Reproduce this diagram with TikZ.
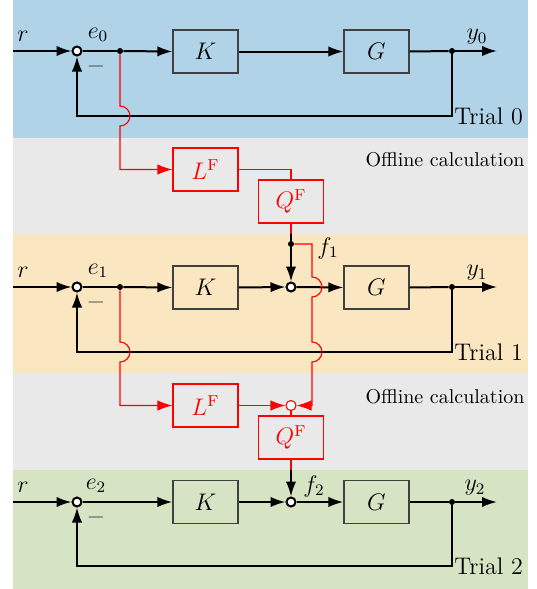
\documentclass[tikz,border=0pt]{standalone}
\usetikzlibrary{arrows.meta,calc}
\definecolor{bandblue}{RGB}{176,211,232}
\definecolor{bandgray}{RGB}{233,233,233}
\definecolor{bandorange}{RGB}{250,230,192}
\definecolor{bandgreen}{RGB}{215,228,196}
\begin{document}
\begin{tikzpicture}[x=0.5pt,y=-0.5pt,
 sig/.style={line width=1pt,draw=black},
 rsig/.style={line width=0.55pt,draw=red},
 arr/.style={-{Latex[length=7.5pt,width=5.2pt]}},
 blk/.style={draw=black!75,line width=0.65pt,minimum width=32.5pt,minimum height=21.5pt,inner sep=0pt,font=\large},
 rblk/.style={blk,draw=red,text=red},
 sumc/.style={circle,draw,line width=1pt,fill=white,minimum size=4.5pt,inner sep=0pt},
 rsumc/.style={circle,draw=red,line width=0.55pt,fill=white,minimum size=5pt,inner sep=0pt},
 dotc/.style={circle,fill,minimum size=3pt,inner sep=0pt},
 lbl/.style={font=\large,inner sep=0pt},
 trial/.style={font=\large,anchor=west,inner sep=1pt},
 offl/.style={inner sep=0pt}]
\useasboundingbox (0,0) rectangle (536,589);
% bands
\fill[bandblue] (13,0) rectangle (528,138);
\fill[bandgray] (13,138) rectangle (528,234);
\fill[bandorange] (13,234) rectangle (528,373);
\fill[bandgray] (13,373) rectangle (528,470);
\fill[bandgreen] (13,470) rectangle (528,589);

% ---------- Trial 0 ----------
\coordinate (in0) at (13,51);
\node[sumc] (s0) at (77,51) {};
\node[dotc] (br0) at (120,51) {};
\node[blk] (K0) at (205.5,51.5) {$K$};
\node[blk] (G0) at (376.5,51.5) {$G$};
\node[dotc] (d0) at (452,51) {};
\coordinate (out0) at (497,51);
\coordinate (c0) at (452,116);
\node[lbl] (r0) at (23,36) {$r$};
\node[lbl] (e0) at (98,35) {$e_0$};
\node[lbl] (y0) at (477,37) {$y_0$};
\node[lbl,text=black!70] (m0) at (96,66) {$-$};
\node[trial] (t0) at (c0) {Trial 0};
\draw[sig,arr] (in0) -- (s0.west);
\draw[sig] (s0.east) -- (br0);
\draw[sig,arr] (br0) -- (K0.west);
\draw[sig,arr] (K0.east) -- (G0.west);
\draw[sig] (G0.east) -- (d0);
\draw[sig,arr] (d0) -- (out0);
\draw[sig,arr] (d0) -- (c0) -| (s0.south);

% ---------- Offline 1 ----------
\node[offl] (off1) at (445,160) {Offline calculation};
\node[rblk] (L0) at (205.5,169.5) {$L^{\mathrm{F}}$};
\node[rblk] (Q0) at (291,201.5) {$Q^{\mathrm{F}}$};
\coordinate (h0) at (120,106);
\draw[rsig,arr] (br0) -- (h0) arc[start angle=90,end angle=-90,radius=5pt] |- (L0.west);
\draw[rsig] (L0.east) -| (Q0.north);

% ---------- Trial 1 ----------
\coordinate (in1) at (13,287);
\node[sumc] (s1) at (77,287) {};
\node[dotc] (br1) at (120,287) {};
\node[blk] (K1) at (205.5,287.5) {$K$};
\node[sumc] (f1s) at (291,287) {};
\node[blk] (G1) at (376.5,287.5) {$G$};
\node[dotc] (d1) at (452,287) {};
\coordinate (out1) at (497,287);
\coordinate (c1) at (452,352);
\coordinate (b1) at (291,234);
\node[dotc] (f1d) at (291,244) {};
\node[lbl] (r1) at (23,272) {$r$};
\node[lbl] (e1) at (98,271) {$e_1$};
\node[lbl] (y1) at (477,273) {$y_1$};
\node[lbl] (f1) at (328,248) {$f_1$};
\node[lbl,text=black!70] (m1) at (96,302) {$-$};
\node[trial] (t1) at (c1) {Trial 1};
\draw[sig,arr] (in1) -- (s1.west);
\draw[sig] (s1.east) -- (br1);
\draw[sig,arr] (br1) -- (K1.west);
\draw[sig,arr] (K1.east) -- (f1s.west);
\draw[sig,arr] (f1s.east) -- (G1.west);
\draw[sig] (G1.east) -- (d1);
\draw[sig,arr] (d1) -- (out1);
\draw[sig,arr] (d1) -- (c1) -| (s1.south);
\draw[rsig] (Q0.south) -- (b1);
\draw[sig] (b1) -- (f1d);
\draw[sig,arr] (f1d) -- (f1s.north);

% ---------- Offline 2 ----------
\node[offl] (off2) at (445,397) {Offline calculation};
\node[rblk] (L1) at (205.5,405.5) {$L^{\mathrm{F}}$};
\node[rsumc] (rc) at (291,405.5) {};
\node[rblk] (Q1) at (291,437.5) {$Q^{\mathrm{F}}$};
\coordinate (h1) at (120,342);
\coordinate (h2) at (312,277);
\coordinate (h3) at (312,342);
\draw[rsig,arr] (br1) -- (h1) arc[start angle=90,end angle=-90,radius=5pt] |- (L1.west);
\draw[rsig,arr] (L1.east) -- (rc.west);
\draw[rsig,arr] (f1d) -| (h2) arc[start angle=90,end angle=-90,radius=5pt] -- (h3) arc[start angle=90,end angle=-90,radius=5pt] |- (rc.east);
\draw[rsig] (rc.south) -- (Q1.north);

% ---------- Trial 2 ----------
\coordinate (in2) at (13,502);
\node[sumc] (s2) at (77,502) {};
\node[blk] (K2) at (205.5,502) {$K$};
\node[sumc] (f2s) at (291,502) {};
\node[blk] (G2) at (376.5,502) {$G$};
\node[dotc] (d2) at (452,502) {};
\coordinate (out2) at (497,502);
\coordinate (c2) at (452,566);
\coordinate (b2) at (291,470);
\node[lbl] (r2) at (23,487) {$r$};
\node[lbl] (e2) at (96,486) {$e_2$};
\node[lbl] (y2) at (475,488) {$y_2$};
\node[lbl] (f2) at (314,486) {$f_2$};
\node[lbl,text=black!70] (m2) at (96,517) {$-$};
\node[trial] (t2) at (c2) {Trial 2};
\draw[sig,arr] (in2) -- (s2.west);
\draw[sig,arr] (s2.east) -- (K2.west);
\draw[sig,arr] (K2.east) -- (f2s.west);
\draw[sig,arr] (f2s.east) -- (G2.west);
\draw[sig] (G2.east) -- (d2);
\draw[sig,arr] (d2) -- (out2);
\draw[sig,arr] (d2) -- (c2) -| (s2.south);
\draw[rsig] (Q1.south) -- (b2);
\draw[sig,arr] (b2) -- (f2s.north);
\end{tikzpicture}
\end{document}
